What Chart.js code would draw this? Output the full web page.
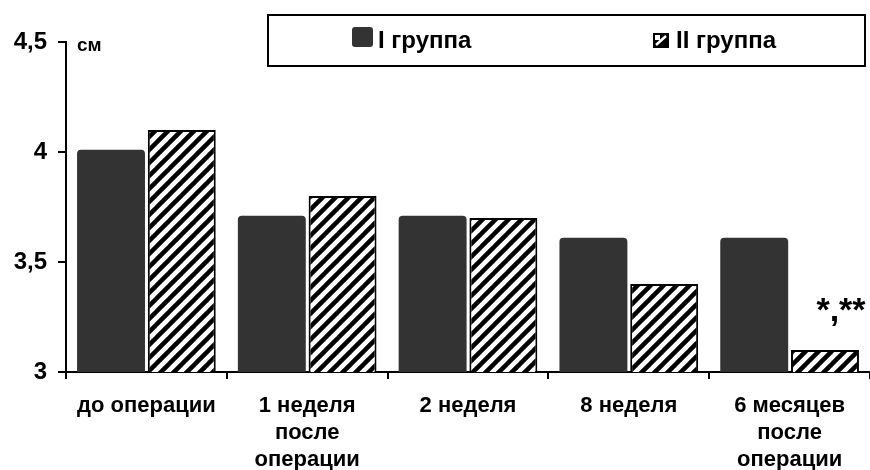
<!DOCTYPE html>
<html>
<head>
<meta charset="utf-8">
<script src="https://cdn.jsdelivr.net/npm/chart.js@4/dist/chart.umd.min.js"></script>
<style>
html,body{margin:0;padding:0;background:#fff;}
canvas{display:block;}
</style>
</head>
<body>
<canvas id="c" width="870" height="470"></canvas>
<script>
const categories = [
  'до операции',
  ['1 неделя', 'после', 'операции'],
  '2 неделя',
  '8 неделя',
  ['6 месяцев', 'после', 'операции']
];
const group1Label = 'I группа';
const group2Label = 'II группа';
const group1Values = [4.01, 3.71, 3.71, 3.61, 3.61];
const group2Values = [4.10, 3.80, 3.70, 3.40, 3.10];
const yTickLabels = { '3': '3', '3.5': '3,5', '4': '4', '4.5': '4,5' };
const unitLabel = 'см';
const significanceMark = '*,**';
const significanceIndex = 4;

const FONT = "'Liberation Sans', Arial, sans-serif";

function makeHatch() {
  const s = 13;
  const t = document.createElement('canvas');
  t.width = s; t.height = s;
  const g = t.getContext('2d');
  g.fillStyle = '#fff';
  g.fillRect(0, 0, s, s);
  g.strokeStyle = '#000';
  g.lineWidth = 4.5;
  g.lineCap = 'square';
  for (const o of [-s, 0, s]) {
    g.beginPath();
    g.moveTo(o, s);
    g.lineTo(o + s, 0);
    g.stroke();
  }
  return t;
}
const ctx0 = document.getElementById('c').getContext('2d');
const hatch = ctx0.createPattern(makeHatch(), 'repeat');

const overlay = {
  id: 'overlay',
  afterDraw(chart) {
    const c = chart.ctx;
    c.save();
    // unit label
    c.fillStyle = '#000';
    c.font = 'bold 19px ' + FONT;
    c.textAlign = 'left';
    c.textBaseline = 'alphabetic';
    c.fillText(unitLabel, 77, 51);

    // legend box
    c.strokeStyle = '#000';
    c.lineWidth = 2;
    c.strokeRect(268, 15, 597, 51);
    // item 1
    c.fillStyle = '#333333';
    c.beginPath();
    c.roundRect(352, 27, 21, 20, 3);
    c.fill();
    c.fillStyle = '#000';
    c.font = 'bold 24px ' + FONT;
    c.textBaseline = 'middle';
    c.fillText(group1Label, 378, 41);
    // item 2 icon
    c.fillStyle = '#000';
    c.fillRect(653, 33, 16, 15);
    c.strokeStyle = '#fff';
    c.lineWidth = 2.5;
    c.beginPath();
    c.moveTo(656, 45);
    c.lineTo(666, 36);
    c.stroke();
    c.fillStyle = '#fff';
    c.fillRect(655, 35, 5, 5);
    c.fillStyle = '#000';
    c.fillText(group2Label, 676, 41);

    // significance mark
    const meta = chart.getDatasetMeta(1);
    const bar = meta.data[significanceIndex];
    c.font = 'bold 34px ' + FONT;
    c.textAlign = 'center';
    c.textBaseline = 'alphabetic';
    c.fillText(significanceMark, bar.x + 16, 321);
    c.restore();
  }
};

new Chart(ctx0, {
  type: 'bar',
  data: {
    labels: categories,
    datasets: [
      {
        label: group1Label,
        data: group1Values,
        backgroundColor: '#333333',
        borderWidth: 0,
        borderRadius: { topLeft: 4, topRight: 4, bottomLeft: 0, bottomRight: 0 },
        borderSkipped: 'start',
        categoryPercentage: 0.88,
        barPercentage: 0.96
      },
      {
        label: group2Label,
        data: group2Values,
        backgroundColor: hatch,
        borderColor: '#000',
        borderWidth: 2,
        borderSkipped: 'start',
        categoryPercentage: 0.88,
        barPercentage: 0.96
      }
    ]
  },
  options: {
    responsive: false,
    animation: false,
    devicePixelRatio: 1,
    layout: { padding: { top: 42, right: 0, left: 0, bottom: 0 } },
    plugins: { legend: { display: false }, tooltip: { enabled: false } },
    scales: {
      x: {
        afterFit(s) { s.height = 98; },
        grid: {
          offset: true,
          drawOnChartArea: false,
          drawTicks: true,
          tickLength: 7,
          color: '#000',
          lineWidth: 2
        },
        border: { display: true, color: '#000', width: 2 },
        ticks: {
          color: '#000',
          font: { family: FONT, size: 22, weight: 'bold', lineHeight: 1.23 },
          padding: 13,
          maxRotation: 0,
          autoSkip: false
        }
      },
      y: {
        min: 3,
        max: 4.5,
        afterFit(s) { s.width = 66; },
        grid: {
          drawOnChartArea: false,
          drawTicks: true,
          tickLength: 8,
          color: '#000',
          lineWidth: 2
        },
        border: { display: true, color: '#000', width: 2 },
        ticks: {
          stepSize: 0.5,
          color: '#000',
          padding: 11,
          font: { family: FONT, size: 24, weight: 'bold' },
          callback(v) { return yTickLabels[String(v)] ?? String(v).replace('.', ','); }
        }
      }
    }
  },
  plugins: [overlay]
});
</script>
</body>
</html>
